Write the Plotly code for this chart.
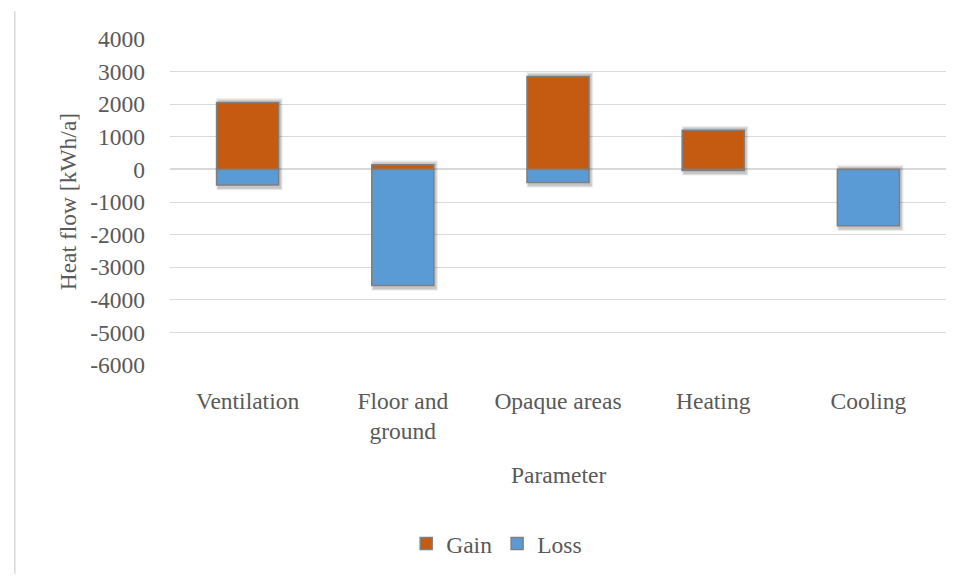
import plotly.graph_objects as go

categories = ["Ventilation", "Floor and<br>ground", "Opaque areas", "Heating", "Cooling"]
gain = [2050, 140, 2850, 1200, 0]
loss = [-480, -3560, -400, -30, -1730]
y_ticks = [4000, 3000, 2000, 1000, 0, -1000, -2000, -3000, -4000, -5000, -6000]

FONT = "Liberation Serif"
FS = 23.5
TEXT = "#595959"
GRID = "#d9d9d9"
EDGE = "#7f7f7f"
BAR_W = 0.4

# soft drop shadow behind each stacked column (span from loss to gain)
span = [g - l for g, l in zip(gain, loss)]
fig = go.Figure()
for grow, alpha in [(0.030, 0.06), (0.018, 0.08), (0.008, 0.10)]:
    fig.add_trace(go.Bar(
        x=categories, y=[s + 150 * (1 + grow / 0.03) for s in span],
        base=[l - 100 - 60 * grow / 0.03 for l in loss],
        width=BAR_W + grow, offset=-(BAR_W + grow) / 2 + 0.012,
        marker=dict(color=f"rgba(0,0,0,{alpha})", line=dict(width=0)),
        showlegend=False, hoverinfo="skip", xaxis="x", yaxis="y"))

fig.add_trace(go.Bar(name="Gain", x=categories, y=gain, width=BAR_W, xaxis="x2", yaxis="y2",
                     marker=dict(color="#C55A11", line=dict(color=EDGE, width=1.5))))
fig.add_trace(go.Bar(name="Loss", x=categories, y=loss, width=BAR_W, xaxis="x2", yaxis="y2",
                     marker=dict(color="#5B9BD5", line=dict(color=EDGE, width=1.5))))

yr = [-6000, 4000]
fig.update_layout(
    width=973, height=577,
    margin=dict(l=170, r=27, t=39, b=210),
    barmode="relative",
    paper_bgcolor="white", plot_bgcolor="white",
    font=dict(family=FONT, size=FS, color=TEXT),
    legend=dict(orientation="h", x=0.421, xanchor="center", y=-0.548, yanchor="middle",
                font=dict(size=FS, color=TEXT), itemwidth=30, tracegroupgap=0),
    xaxis=dict(showgrid=False, showline=False, ticks="", ticklabelstandoff=19,
               categoryorder="array", categoryarray=categories),
    yaxis=dict(range=yr, tickvals=y_ticks, ticktext=[str(v) for v in y_ticks],
               showgrid=True, gridcolor=GRID, gridwidth=1, zeroline=False,
               showline=False, ticks="", ticklabelstandoff=24),
    xaxis2=dict(overlaying="x", matches="x", showgrid=False, showline=False, showticklabels=False,
                ticks="", categoryorder="array", categoryarray=categories),
    yaxis2=dict(overlaying="y", range=yr, showgrid=False, showticklabels=False, ticks="",
                zeroline=True, zerolinecolor=GRID, zerolinewidth=2, layer="above traces"),
    annotations=[
        dict(text="Parameter", xref="paper", yref="paper", x=0.5, y=-0.338, showarrow=False,
             xanchor="center", yanchor="middle", font=dict(size=FS, color=TEXT)),
        dict(text="Heat flow [kWh/a]", xref="paper", yref="paper", x=-0.131, y=0.5, textangle=-90,
             showarrow=False, xanchor="center", yanchor="middle", font=dict(size=FS, color=TEXT)),
    ],
    shapes=[dict(type="line", xref="paper", yref="paper", x0=-0.200, x1=-0.200, y0=1.085, y1=-0.64,
                 line=dict(color=GRID, width=1.5))],
)

fig.write_html("out.html")
